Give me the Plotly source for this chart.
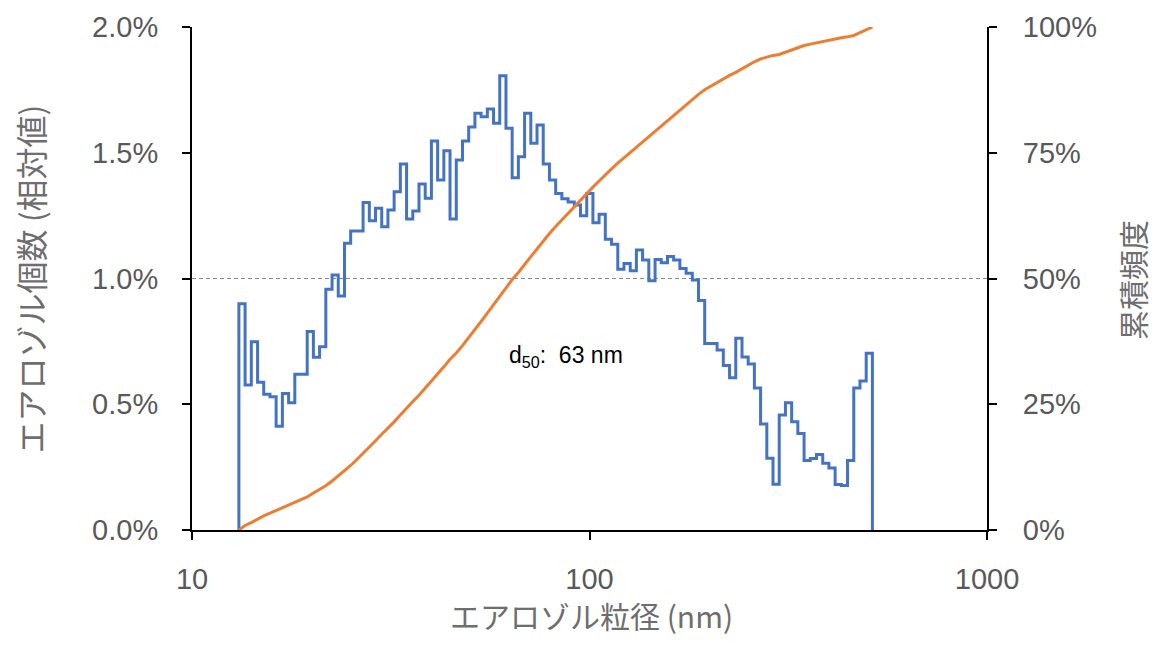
import plotly.graph_objects as go

# Bin edges (nm), 64 channels per decade
edges_nm = [13.12, 13.60, 14.10, 14.62, 15.15, 15.71, 16.28, 16.88, 17.50, 18.14,
            18.80, 19.49, 20.20, 20.94, 21.71, 22.51, 23.33, 24.19, 25.07, 25.99,
            26.94, 27.93, 28.95, 30.01, 31.11, 32.25, 33.43, 34.66, 35.93, 37.24,
            38.61, 40.02, 41.49, 43.01, 44.58, 46.22, 47.91, 49.67, 51.49, 53.37,
            55.33, 57.36, 59.46, 61.64, 63.89, 66.23, 68.66, 71.18, 73.79, 76.49,
            79.29, 82.20, 85.21, 88.33, 91.57, 94.92, 98.40, 102.0, 105.7, 109.6,
            113.6, 117.8, 122.1, 126.6, 131.2, 136.0, 141.0, 146.2, 151.5, 157.1,
            162.8, 168.8, 175.0, 181.4, 188.0, 194.9, 202.0, 209.4, 217.1, 225.1,
            233.3, 241.9, 250.7, 259.9, 269.4, 279.3, 289.5, 300.1, 311.1, 322.5,
            334.3, 346.6, 359.3, 372.4, 386.1, 400.2, 414.9, 430.1, 445.8, 462.2,
            479.1, 496.7, 514.9]

# Relative number per bin (%)
count_pct = [0.900, 0.577, 0.749, 0.587, 0.540, 0.530, 0.413, 0.543, 0.506, 0.619,
             0.619, 0.789, 0.687, 0.729, 0.957, 1.014, 0.930, 1.140, 1.189, 1.189,
             1.302, 1.230, 1.279, 1.206, 1.272, 1.345, 1.455, 1.237, 1.268, 1.376,
             1.319, 1.547, 1.392, 1.508, 1.237, 1.471, 1.547, 1.602, 1.657, 1.643,
             1.674, 1.617, 1.806, 1.597, 1.401, 1.484, 1.657, 1.538, 1.610, 1.455,
             1.392, 1.338, 1.317, 1.304, 1.292, 1.250, 1.338, 1.222, 1.255, 1.156,
             1.136, 1.037, 1.060, 1.031, 1.113, 1.074, 0.991, 1.076, 1.063, 1.087,
             1.074, 1.040, 1.021, 0.994, 0.913, 0.742, 0.742, 0.716, 0.654, 0.605,
             0.762, 0.688, 0.660, 0.565, 0.421, 0.285, 0.182, 0.457, 0.506, 0.430,
             0.384, 0.276, 0.284, 0.300, 0.265, 0.247, 0.181, 0.177, 0.276, 0.565,
             0.592, 0.703]

# Cumulative frequency (%) at each bin edge
cumulative_pct = [0.0, 0.90, 1.48, 2.23, 2.81, 3.35, 3.88, 4.30, 4.84, 5.35,
                  5.96, 6.58, 7.37, 8.06, 8.79, 9.75, 10.76, 11.69, 12.83, 14.02,
                  15.21, 16.51, 17.74, 19.02, 20.22, 21.50, 22.84, 24.30, 25.53, 26.80,
                  28.18, 29.50, 31.04, 32.44, 33.94, 35.18, 36.65, 38.20, 39.80, 41.46,
                  43.10, 44.77, 46.39, 48.20, 49.79, 51.20, 52.68, 54.34, 55.87, 57.48,
                  58.94, 60.33, 61.67, 62.99, 64.29, 65.58, 66.83, 68.17, 69.39, 70.65,
                  71.80, 72.94, 73.98, 75.04, 76.07, 77.18, 78.25, 79.25, 80.32, 81.38,
                  82.47, 83.55, 84.59, 85.61, 86.60, 87.51, 88.26, 89.00, 89.71, 90.37,
                  90.97, 91.73, 92.42, 93.08, 93.65, 94.07, 94.35, 94.54, 94.99, 95.50,
                  95.93, 96.31, 96.59, 96.87, 97.17, 97.44, 97.68, 97.87, 98.04, 98.32,
                  98.88, 99.48, 100.0]

x_ticks = [10, 100, 1000]
x_tick_text = ["10", "100", "1000"]
left_ticks = [0, 0.5, 1.0, 1.5, 2.0]
left_tick_text = ["0.0%", "0.5%", "1.0%", "1.5%", "2.0%"]
right_ticks = [0, 25, 50, 75, 100]
right_tick_text = ["0%", "25%", "50%", "75%", "100%"]

x_title = "エアロゾル粒径 (nm)"
y_title = "エアロゾル個数 (相対値)"
y2_title = "累積頻度"
d50_label = "d<sub>50</sub>:&nbsp;&nbsp;63 nm"

# step outline built from the bins
step_x = [edges_nm[0]] + edges_nm[:-1] + [edges_nm[-1]]
step_y = [0] + count_pct + [0]

TICK_GREY = "#595959"
TITLE_GREY = "#6e6e6e"
FONT = "Liberation Sans, Noto Sans CJK JP, sans-serif"
CJK = "Noto Sans CJK JP, sans-serif"

fig = go.Figure()
fig.add_trace(go.Scatter(x=step_x, y=step_y, mode="lines", line_shape="hv",
                         line=dict(color="#4472C4", width=3), yaxis="y", showlegend=False))
fig.add_trace(go.Scatter(x=edges_nm, y=cumulative_pct, mode="lines",
                         line=dict(color="#ED7D31", width=3), yaxis="y2", showlegend=False))

fig.add_shape(type="line", xref="paper", x0=0, x1=1, yref="y", y0=1.0, y1=1.0,
              line=dict(color="#8a8a8a", width=1.2, dash="4px,3px"), layer="below")

fig.add_annotation(x=1.942, y=0.69, xref="x", yref="y", text=d50_label, showarrow=False,
                   font=dict(family="Liberation Sans, sans-serif", size=23, color="#000000"))

# axis titles
fig.add_annotation(x=0.502, y=-0.169, xref="paper", yref="paper", text=x_title, showarrow=False,
                   xanchor="center", yanchor="middle",
                   font=dict(family=CJK, size=30, color=TITLE_GREY))
fig.add_annotation(x=-0.2038, y=0.5, xref="paper", yref="paper", text=y_title, showarrow=False,
                   textangle=-90, xanchor="center", yanchor="middle",
                   font=dict(family=CJK, size=32, color=TITLE_GREY))
fig.add_annotation(x=1.1824, y=0.497, xref="paper", yref="paper", text=y2_title, showarrow=False,
                   textangle=-90, xanchor="center", yanchor="middle",
                   font=dict(family=CJK, size=30, color=TITLE_GREY))

axis_common = dict(showgrid=False, zeroline=False, showline=True, linecolor="black", linewidth=2,
                   ticks="outside", ticklen=8, tickwidth=2, tickcolor="black",
                   tickfont=dict(family=FONT, size=29, color=TICK_GREY), automargin=False)

fig.update_layout(
    width=1145, height=632,
    margin=dict(l=184, r=166, t=19, b=110),
    paper_bgcolor="white", plot_bgcolor="white",
    font=dict(family=FONT, color=TICK_GREY, size=24),
    xaxis=dict(type="log", range=[1, 3], tickvals=x_ticks, ticktext=x_tick_text,
               ticklabelstandoff=14, **axis_common),
    yaxis=dict(range=[0, 2], tickvals=left_ticks, ticktext=left_tick_text,
               ticklabelstandoff=18, **axis_common),
    yaxis2=dict(range=[0, 100], tickvals=right_ticks, ticktext=right_tick_text,
                overlaying="y", side="right", ticklabelstandoff=20, **axis_common),
)

fig.write_html("out.html")
